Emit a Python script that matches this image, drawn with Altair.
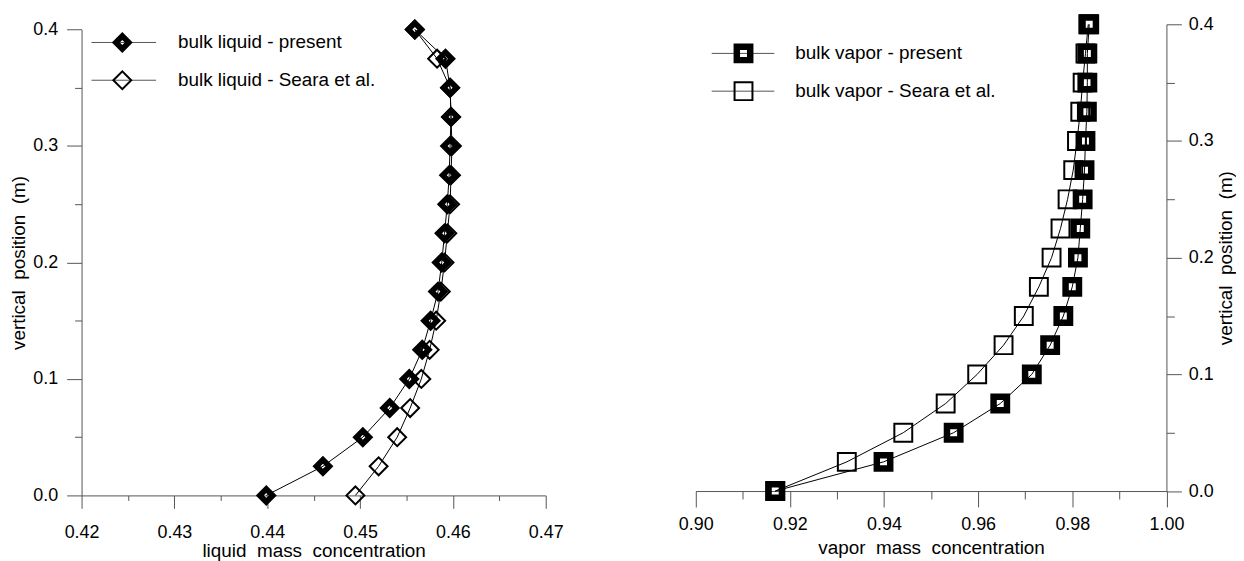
import altair as alt
import pandas as pd

# ---------------- data ----------------
positions = [0.0, 0.025, 0.05, 0.075, 0.1, 0.125, 0.15, 0.175, 0.2,
             0.225, 0.25, 0.275, 0.3, 0.325, 0.35, 0.375, 0.4]

liquid_present = [0.4399, 0.4460, 0.4503, 0.4532, 0.4553, 0.4567, 0.4576, 0.4584, 0.4588,
                  0.4591, 0.4594, 0.4596, 0.4597, 0.4598, 0.4597, 0.4592, 0.4559]
liquid_seara = [0.4495, 0.4520, 0.4540, 0.4554, 0.4566, 0.4575, 0.4582, 0.4587, 0.4591,
                0.4594, 0.4597, 0.4598, 0.4599, 0.4598, 0.4597, 0.4583, 0.4559]

vapor_present = [0.9169, 0.9399, 0.9548, 0.9647, 0.9714, 0.9753, 0.9781, 0.9800, 0.9812,
                 0.9817, 0.9822, 0.9826, 0.9828, 0.9831, 0.9832, 0.9832, 0.9836]
vapor_seara = [0.9169, 0.9321, 0.9441, 0.9531, 0.9598, 0.9654, 0.9697, 0.9729, 0.9756,
               0.9775, 0.9790, 0.9802, 0.9810, 0.9817, 0.9822, 0.9828, 0.9834]

liquid_labels = ["bulk liquid - present", "bulk liquid - Seara et al."]
vapor_labels = ["bulk vapor - present", "bulk vapor - Seara et al."]

liquid_major = [0.42, 0.43, 0.44, 0.45, 0.46, 0.47]
liquid_minor = [0.425, 0.435, 0.445, 0.455, 0.465]
vapor_major = [0.90, 0.92, 0.94, 0.96, 0.98, 1.00]
vapor_minor = [0.91, 0.93, 0.95, 0.97, 0.99]
pos_major = [0.0, 0.1, 0.2, 0.3, 0.4]
pos_minor = [0.05, 0.15, 0.25, 0.35]

y_title = "vertical\u00a0 position\u00a0 (m)"
liquid_title = "liquid\u00a0 mass\u00a0 concentration"
vapor_title = "vapor\u00a0 mass\u00a0 concentration"

FONT = "Liberation Sans"
AXC = "#555555"

# ---------------- geometry of the single view ----------------
W, H = 1091.5, 474
LIQ_X_RANGE = [0, 467]
VAP_X_RANGE = [617.9, 1091.5]
LIQ_Y_RANGE = [474, 5.3]
VAP_Y_RANGE = [469.6, 0]


def axis(values, fmt, title, orient, tick, lab_pad, labels=True, domain=True, **kw):
    return alt.Axis(values=values, format=fmt, title=title, orient=orient,
                    tickSize=tick, labelPadding=lab_pad, labels=labels, domain=domain,
                    grid=False, labelFlush=False, labelOverlap=False, labelBound=False,
                    domainColor=AXC, tickColor=AXC, domainWidth=1, tickWidth=1,
                    labelFont=FONT, labelFontSize=18, labelColor="black",
                    titleFont=FONT, titleFontSize=19, titleFontWeight="normal",
                    titleColor="black", **kw)


def panel_layers(present, seara, labels, x_dom, x_rng, y_rng, x_axes, y_axes,
                 shape, filled_size, filled_sw, open_size, open_sw, leg):
    n = len(positions)
    df = pd.DataFrame({
        "pos": positions + positions,
        "conc": present + seara,
        "series": [labels[0]] * n + [labels[1]] * n,
    })

    def xs():
        return alt.Scale(domain=x_dom, range=x_rng, nice=False, zero=False)

    def ys():
        return alt.Scale(domain=[0, 0.4], range=y_rng, nice=False, zero=False)

    base = alt.Chart(df)
    xmaj, xmin = x_axes
    ymaj, ymin = y_axes

    lines = base.mark_line(color="black", strokeWidth=1).encode(
        x=alt.X("conc:Q", scale=xs(), axis=xmaj),
        y=alt.Y("pos:Q", scale=ys(), axis=ymaj),
        detail="series:N",
        order="pos:Q",
    )
    open_pts = base.transform_filter(alt.datum.series == labels[1]).mark_point(
        shape=shape, filled=False, color="black", opacity=1,
        size=open_size, strokeWidth=open_sw).encode(
        x=alt.X("conc:Q", scale=xs(), axis=xmin),
        y=alt.Y("pos:Q", scale=ys(), axis=ymin),
    )
    filled_pts = base.transform_filter(alt.datum.series == labels[0]).mark_point(
        shape=shape, filled=False, color="black", opacity=1,
        size=filled_size, strokeWidth=filled_sw, strokeJoin="miter").encode(
        x=alt.X("conc:Q", scale=xs(), axis=None),
        y=alt.Y("pos:Q", scale=ys(), axis=None),
    )

    # legend drawn manually (line through a marker, then text)
    lx1, lx2, mx, tx, rows = leg
    layers = [lines, open_pts, filled_pts]
    for i, lab in enumerate(labels):
        ld = alt.Chart(pd.DataFrame({"label": [lab]}))
        yv = rows[i]
        layers.append(ld.mark_rule(color=AXC, strokeWidth=1).encode(
            x=alt.value(lx1), x2=alt.value(lx2), y=alt.value(yv)))
        sz, sw = (filled_size, filled_sw) if i == 0 else (open_size, open_sw)
        layers.append(ld.mark_point(shape=shape, filled=False, color="black",
                                    opacity=1, size=sz, strokeWidth=sw).encode(
            x=alt.value(mx), y=alt.value(yv)))
        layers.append(ld.mark_text(align="left", baseline="middle", font=FONT,
                                   fontSize=19, color="black").encode(
            x=alt.value(tx), y=alt.value(yv), text="label:N"))
    return layers


liq_layers = panel_layers(
    liquid_present, liquid_seara, liquid_labels, [0.42, 0.47], LIQ_X_RANGE, LIQ_Y_RANGE,
    (axis(liquid_major, ".2f", liquid_title, "bottom", 13, 15, titlePadding=0),
     axis(liquid_minor, ".3f", None, "bottom", 5, 2, labels=False, domain=False)),
    (axis(pos_major, ".1f", y_title, "left", 15, 9, titlePadding=4),
     axis(pos_minor, ".2f", None, "left", 7, 2, labels=False, domain=False)),
    "diamond", 169, 5.7, 324, 2,
    (10, 75, 41, 97, [18.3, 56.3]))

vap_layers = panel_layers(
    vapor_present, vapor_seara, vapor_labels, [0.90, 1.00], VAP_X_RANGE, VAP_Y_RANGE,
    (axis(vapor_major, ".2f", vapor_title, "bottom", 16, 9, titlePadding=5, offset=-4.4),
     axis(vapor_minor, ".2f", None, "bottom", 8, 2, labels=False, domain=False, offset=-4.4)),
    (axis(pos_major, ".1f", y_title, "right", 15, 7, titlePadding=3,
          titleAngle=270, titleBaseline="top"),
     axis(pos_minor, ".2f", None, "right", 8, 2, labels=False, domain=False)),
    "square", 182, 6.5, 324, 2,
    (634, 697, 666, 718, [29.3, 67.3]))

chart = alt.layer(*liq_layers, *vap_layers).resolve_scale(
    x="independent", y="independent").resolve_axis(
    x="independent", y="independent").properties(
    width=W, height=H,
    autosize=alt.AutoSizeParams(type="none"),
    padding={"left": 74, "top": 14.7, "right": 70, "bottom": 64.3},
).configure(background="white").configure_view(stroke="transparent")

chart.save("out.html", embed_options={"renderer": "svg", "actions": False})
